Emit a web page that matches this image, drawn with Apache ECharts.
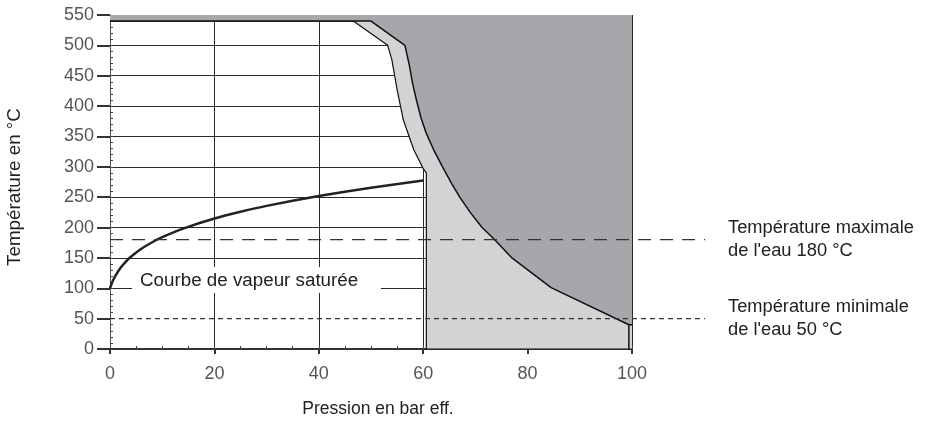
<!DOCTYPE html>
<html><head><meta charset="utf-8">
<script src="https://cdn.jsdelivr.net/npm/echarts@6/dist/echarts.min.js"></script>
<style>html,body{margin:0;padding:0;background:#fff}#c{width:926px;height:422px}</style>
</head><body><div id="c"></div>
<script>
// Axis ticks
const xTicks = [0, 20, 40, 60, 80, 100];
const yTicks = [0, 50, 100, 150, 200, 250, 300, 350, 400, 450, 500, 550];
// Saturated steam curve (pressure bar eff., temperature °C)
const satP = [0, 0.1, 0.5, 1, 2, 3, 4, 6, 8, 10, 14, 20, 25, 30, 40, 50, 60];
const satT = [100, 102.6, 111.4, 120.2, 133.5, 143.6, 151.8, 165, 175.4, 184.1, 198.3, 214.9, 226, 235.7, 251.9, 265.5, 277.4];
// Outer boundary (light grey / dark grey)
const outerP = [0, 50, 56.5, 57.4, 57.9, 58.7, 59.6, 60.6, 62.0, 63.7, 65.4, 67.0, 69.0, 71.2, 73.7, 77.0, 84.5, 99.4, 100];
const outerT = [540, 540, 500, 465, 440, 410, 380, 355, 328, 300, 273, 250, 225, 201, 180, 150, 101, 40, 40];
// Vertical edge of the outer boundary at the right
const edgeP = [99.4, 99.4];
const edgeT = [40, 0];
// Inner boundary (white / light grey)
const innerP = [0, 46.6, 53.2, 54.0, 55.0, 56.2, 58.2, 60.0, 60.6, 60.6, 100];
const innerT = [540, 540, 500, 476, 427, 377, 328, 297, 290, 0, 0];
// Reference temperatures
const maxTemp = 180;
const minTemp = 50;
const refLineEndP = 114;

const zip = (a, b) => a.map((v, i) => [v, b[i]]);
const FONT = '"Liberation Sans", Arial, sans-serif';
const DARK = '#a6a7aa', LIGHT = '#d2d3d5';

const chart = echarts.init(document.getElementById('c'), null, {renderer: 'canvas'});
const splitColors = yTicks.map(v => (v >= 100 && v <= 500) ? '#2a2a2a' : 'transparent');

chart.setOption({
  animation: false,
  grid: [
    {left: 110, right: 294, top: 15, bottom: 73, containLabel: false},
    {left: 110, right: 221, top: 15, bottom: 73, containLabel: false}
  ],
  xAxis: [{
    type: 'value', gridIndex: 0, min: xTicks[0], max: xTicks[xTicks.length - 1], interval: 20,
    axisLine: {show: true, lineStyle: {color: '#333', width: 2}},
    axisTick: {show: true, length: 5, lineStyle: {color: '#333', width: 2}},
    axisLabel: {fontSize: 18, color: '#555', margin: 16, fontFamily: FONT},
    splitLine: {show: true, lineStyle: {color: '#2a2a2a', width: 1}}
  }, {
    type: 'value', gridIndex: 0, min: 0, max: 100, interval: 5, position: 'bottom',
    axisLine: {show: false}, axisLabel: {show: false}, splitLine: {show: false},
    axisTick: {show: true, inside: true, length: 3, lineStyle: {color: '#444', width: 1}}
  }, {
    type: 'value', gridIndex: 1, min: 0, max: refLineEndP, show: false
  }],
  yAxis: [{
    type: 'value', gridIndex: 0, min: yTicks[0], max: yTicks[yTicks.length - 1], interval: 50,
    axisLine: {show: true, lineStyle: {color: '#555', width: 1}},
    axisTick: {show: true, length: 13, lineStyle: {color: '#333', width: 2}},
    axisLabel: {fontSize: 18, color: '#555', margin: 16, fontFamily: FONT},
    splitLine: {show: true, lineStyle: {color: splitColors, width: 1}}
  }, {
    type: 'value', gridIndex: 0, min: 0, max: 550, interval: 10, position: 'left', alignTicks: false,
    axisLine: {show: false}, axisLabel: {show: false}, splitLine: {show: false},
    axisTick: {show: true, inside: true, length: 3, lineStyle: {color: '#444', width: 1}}
  }, {
    type: 'value', gridIndex: 1, min: 0, max: 550, show: false
  }],
  series: [
    {
      type: 'line', data: zip(innerP, innerT), symbol: 'none', z: 3,
      lineStyle: {color: '#111', width: 1.2},
      areaStyle: {origin: 'end', color: LIGHT, opacity: 1}
    },
    {
      type: 'line', data: zip(outerP, outerT), symbol: 'none', z: 4,
      lineStyle: {color: '#111', width: 1.5},
      areaStyle: {origin: 'end', color: DARK, opacity: 1}
    },
    {
      type: 'line', data: zip(edgeP, edgeT), symbol: 'none', z: 5,
      lineStyle: {color: '#111', width: 1.5}
    },
    {
      type: 'line', data: zip(satP, satT), symbol: 'none', smooth: 0.2, z: 6,
      lineStyle: {color: '#222', width: 2.5}
    },
    {
      type: 'line', xAxisIndex: 2, yAxisIndex: 2, data: [[0, maxTemp], [refLineEndP, maxTemp]], symbol: 'none', z: 7,
      lineStyle: {color: '#333', width: 1.2, type: [13, 9]},
      endLabel: {show: true, formatter: 'Température maximale\nde l\'eau 180 °C', distance: 23,
        fontSize: 18.3, lineHeight: 23, color: '#222', fontFamily: FONT, align: 'left', verticalAlign: 'middle'}
    },
    {
      type: 'line', xAxisIndex: 2, yAxisIndex: 2, data: [[0, minTemp], [refLineEndP, minTemp]], symbol: 'none', z: 7,
      lineStyle: {color: '#333', width: 1.2, type: [5, 4]},
      endLabel: {show: true, formatter: 'Température minimale\nde l\'eau 50 °C', distance: 23,
        fontSize: 18.3, lineHeight: 23, color: '#222', fontFamily: FONT, align: 'left', verticalAlign: 'middle'}
    }
  ],
  graphic: [
    {type: 'rect', z: 100, shape: {x: 132, y: 267, width: 249, height: 26}, style: {fill: '#fff'}},
    {type: 'text', z: 101, x: 140, y: 281, style: {text: 'Courbe de vapeur saturée', font: '18.8px ' + FONT, fill: '#222', verticalAlign: 'middle'}},
    {type: 'text', z: 101, x: 15, y: 187, rotation: Math.PI / 2, style: {text: 'Température en °C', font: '18.8px ' + FONT, fill: '#222', align: 'center', verticalAlign: 'middle'}},
    {type: 'text', z: 101, x: 378, y: 409, style: {text: 'Pression en bar eff.', font: '17.5px ' + FONT, fill: '#222', align: 'center', verticalAlign: 'middle'}}
  ]
});
</script></body></html>
